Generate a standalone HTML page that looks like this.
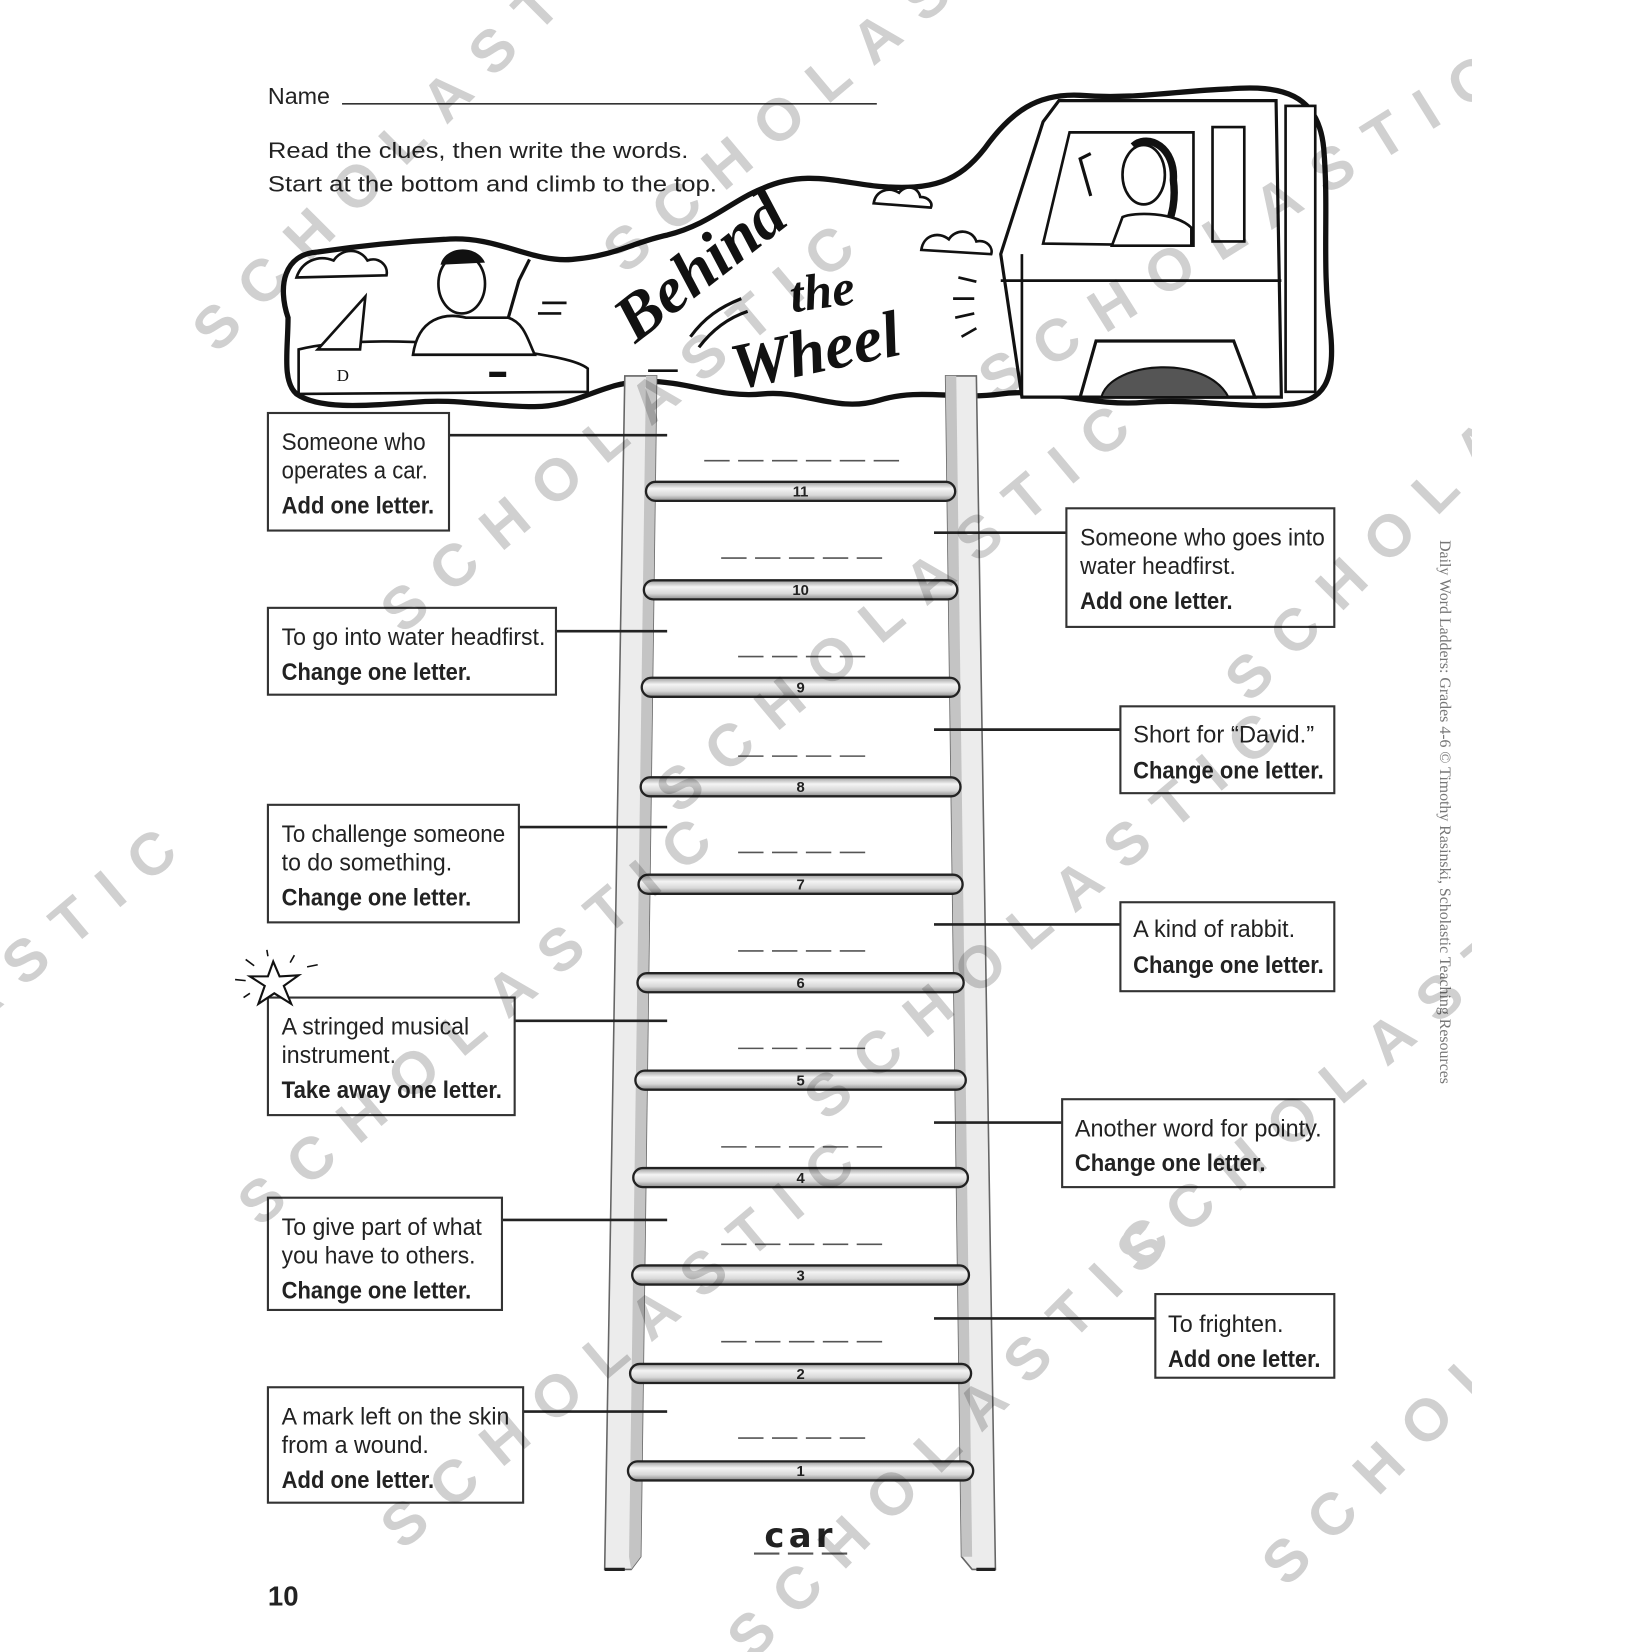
<!DOCTYPE html>
<html><head><meta charset="utf-8"><style>
html,body{margin:0;padding:0;background:#fff;width:1652px;height:1652px;overflow:hidden}
svg{display:block}
.c{font-family:"Liberation Sans Narrow","Liberation Sans",sans-serif;font-size:23px;fill:#222}
.b{font-weight:bold}
.wm{font-family:"Liberation Sans",sans-serif;font-weight:bold;font-size:56px;fill:#d0d0d0;letter-spacing:22px;mix-blend-mode:multiply}
.n{font-family:"Liberation Sans",sans-serif;font-weight:bold;font-size:14px;fill:#222;text-anchor:middle}
</style></head><body>
<svg width="1652" height="1652" viewBox="0 0 1560 1560" xmlns="http://www.w3.org/2000/svg">
<defs>
<linearGradient id="rg" x1="0" y1="0" x2="0" y2="1">
<stop offset="0" stop-color="#9a9a9a"/><stop offset="0.35" stop-color="#f4f4f4"/><stop offset="0.7" stop-color="#d8d8d8"/><stop offset="1" stop-color="#8a8a8a"/>
</linearGradient>
<clipPath id="pg"><rect x="0" y="0" width="1390" height="1560"/></clipPath>
</defs>

<text x="253" y="98" font-family="Liberation Sans,sans-serif" font-size="22" fill="#222">Name</text>
<line x1="323" y1="98" x2="828" y2="98" stroke="#333" stroke-width="1.5"/>
<text x="253" y="149" font-family="Liberation Sans,sans-serif" font-size="21" fill="#222" textLength="397" lengthAdjust="spacingAndGlyphs">Read the clues, then write the words.</text>
<text x="253" y="181" font-family="Liberation Sans,sans-serif" font-size="21" fill="#222" textLength="424" lengthAdjust="spacingAndGlyphs">Start at the bottom and climb to the top.</text>

<path d="M272,300 C262,270 268,240 300,238 C340,232 380,228 420,226 C470,222 500,248 540,245 C580,242 600,228 630,222 C670,212 690,190 720,178 C760,160 790,172 830,176 C880,180 905,172 930,140 C955,105 980,88 1020,90 C1070,94 1110,86 1160,84 C1210,80 1245,88 1250,140 C1255,200 1248,250 1256,310 C1262,360 1250,380 1215,382 C1170,386 1130,376 1080,380 C1030,384 990,366 945,372 C900,378 870,366 830,378 C790,390 760,368 720,372 C680,376 650,360 610,360 C570,360 545,384 505,384 C460,384 430,376 390,380 C340,384 300,386 280,372 C266,360 272,330 272,300 Z" fill="#fff" stroke="#111" stroke-width="5"/>
<path d="M280,262 c5,-15 20,-22 35,-16 c8,-12 25,-12 32,0 c10,-4 20,4 18,14 Z" fill="#fff" stroke="#111" stroke-width="2.5"/>
<path d="M282,330 C330,318 420,322 480,330 C520,336 545,340 555,348 L555,370 L282,372 Z" fill="#fff" stroke="#111" stroke-width="2.5"/>
<path d="M300,330 L345,280 L340,330 Z" fill="#fff" stroke="#111" stroke-width="2.5"/>
<path d="M390,335 C395,300 420,295 440,300 L480,300 C495,305 498,320 505,335 Z" fill="#fff" stroke="#111" stroke-width="2.5"/>
<ellipse cx="436" cy="268" rx="22" ry="28" fill="#fff" stroke="#111" stroke-width="2.5"/>
<path d="M416,250 C420,232 450,230 458,248" fill="#111"/>
<path d="M480,300 L490,265 L500,245" fill="none" stroke="#111" stroke-width="3"/>
<text x="318" y="360" font-family="Liberation Serif,serif" font-size="16" fill="#111">D</text>
<rect x="462" y="351" width="16" height="5" fill="#111"/>
<g stroke="#111" stroke-width="2.5"><line x1="512" y1="286" x2="535" y2="286"/><line x1="508" y1="296" x2="530" y2="296"/><line x1="612" y1="350" x2="640" y2="350"/></g>
<g font-family="Liberation Serif,serif" font-style="italic" font-weight="bold" fill="#111">
<text x="0" y="0" font-size="62" transform="translate(600,325) rotate(-38)">Behind</text>
<text x="0" y="0" font-size="48" transform="translate(748,295) rotate(-8)">the</text>
<text x="0" y="0" font-size="62" transform="translate(695,368) rotate(-12)">Wheel</text>
</g>
<path d="M652,318 C665,300 680,290 700,282 M660,328 C672,312 688,300 706,294" fill="none" stroke="#111" stroke-width="3"/>
<path d="M825,192 c2,-12 14,-16 24,-10 c6,-8 18,-6 20,4 c8,0 12,6 10,10 Z" fill="#fff" stroke="#111" stroke-width="2.5"/>
<path d="M870,236 c2,-14 16,-18 26,-10 c6,-10 22,-10 26,2 c10,-2 16,6 14,12 Z" fill="#fff" stroke="#111" stroke-width="2.5"/>
<path d="M945,240 L985,115 L1000,95 L1205,95 L1210,375 L965,375 Z" fill="#fff" stroke="#111" stroke-width="3"/>
<path d="M985,230 L1010,125 L1127,125 L1127,232 Z" fill="#fff" stroke="#111" stroke-width="2.5"/>
<rect x="1145" y="120" width="30" height="108" fill="#fff" stroke="#111" stroke-width="2.5"/>
<rect x="1214" y="100" width="28" height="270" fill="#fff" stroke="#111" stroke-width="2.5"/>
<line x1="945" y1="265" x2="1210" y2="265" stroke="#111" stroke-width="2.5"/>
<line x1="965" y1="240" x2="965" y2="375" stroke="#111" stroke-width="2.5"/>
<path d="M1020,375 L1035,322 L1165,322 L1185,375 Z" fill="#fff" stroke="#111" stroke-width="3"/>
<path d="M1040,375 C1050,340 1140,335 1160,375 Z" fill="#555" stroke="#111" stroke-width="2"/>
<ellipse cx="1080" cy="165" rx="20" ry="28" fill="#fff" stroke="#111" stroke-width="2.5"/>
<path d="M1070,138 C1085,125 1110,140 1108,170 C1112,200 1100,215 1100,225" fill="none" stroke="#111" stroke-width="7"/>
<path d="M1060,205 C1070,200 1110,200 1125,215 L1125,232 L1050,232 Z" fill="#fff" stroke="#111" stroke-width="2.5"/>
<path d="M1030,185 L1020,150 L1030,145" fill="none" stroke="#111" stroke-width="3"/>
<g stroke="#111" stroke-width="2.5"><line x1="905" y1="262" x2="922" y2="266"/><line x1="900" y1="282" x2="920" y2="282"/><line x1="902" y1="300" x2="920" y2="296"/><line x1="908" y1="318" x2="922" y2="310"/></g>

<polygon points="590,355 620,355 605,1470 596,1482 571,1482" fill="#ececec" stroke="#666" stroke-width="1.5"/>
<polygon points="610,355 620,355 605,1470 596,1482 594,1470" fill="#c4c4c4"/>
<line x1="571" y1="1482" x2="590" y2="1482" stroke="#222" stroke-width="3"/>
<polygon points="893,355 922,355 940,1482 918,1482 908,1470" fill="#ececec" stroke="#666" stroke-width="1.5"/>
<polygon points="893,355 903,355 918,1470 908,1470" fill="#c4c4c4"/>
<line x1="922" y1="1482" x2="940" y2="1482" stroke="#222" stroke-width="3"/>

<g stroke="#222" stroke-width="2.2" fill="url(#rg)">
<rect x="610" y="455" width="292" height="18" rx="9"/>
<rect x="608" y="548" width="296" height="18" rx="9"/>
<rect x="606" y="640" width="300" height="18" rx="9"/>
<rect x="605" y="734" width="302" height="18" rx="9"/>
<rect x="603" y="826" width="306" height="18" rx="9"/>
<rect x="602" y="919" width="308" height="18" rx="9"/>
<rect x="600" y="1011" width="312" height="18" rx="9"/>
<rect x="598" y="1103" width="316" height="18" rx="9"/>
<rect x="597" y="1195" width="318" height="18" rx="9"/>
<rect x="595" y="1288" width="322" height="18" rx="9"/>
<rect x="593" y="1380" width="326" height="18" rx="9"/>
</g>
<g class="n">
<text x="756" y="469">11</text><text x="756" y="562">10</text><text x="756" y="654">9</text><text x="756" y="748">8</text><text x="756" y="840">7</text><text x="756" y="933">6</text><text x="756" y="1025">5</text><text x="756" y="1117">4</text><text x="756" y="1209">3</text><text x="756" y="1302">2</text><text x="756" y="1394">1</text>
</g>

<g stroke="#555" stroke-width="1.5" stroke-dasharray="24,8">
<line x1="665" y1="435" x2="849" y2="435"/>
<line x1="681" y1="527" x2="833" y2="527"/>
<line x1="697" y1="620" x2="817" y2="620"/>
<line x1="697" y1="714" x2="817" y2="714"/>
<line x1="697" y1="805" x2="817" y2="805"/>
<line x1="697" y1="898" x2="817" y2="898"/>
<line x1="697" y1="990" x2="817" y2="990"/>
<line x1="681" y1="1083" x2="833" y2="1083"/>
<line x1="681" y1="1175" x2="833" y2="1175"/>
<line x1="681" y1="1267" x2="833" y2="1267"/>
<line x1="697" y1="1358" x2="817" y2="1358"/>
</g>
<text x="756" y="1461" text-anchor="middle" font-family="DejaVu Sans,sans-serif" font-weight="bold" font-size="32" fill="#222" letter-spacing="4">car</text>
<line x1="712" y1="1467" x2="800" y2="1467" stroke="#555" stroke-width="2" stroke-dasharray="24,8"/>

<g stroke="#222" stroke-width="2.5">
<line x1="424" y1="411" x2="630" y2="411"/>
<line x1="525" y1="596" x2="630" y2="596"/>
<line x1="490" y1="781" x2="630" y2="781"/>
<line x1="486" y1="964" x2="630" y2="964"/>
<line x1="474" y1="1152" x2="630" y2="1152"/>
<line x1="494" y1="1333" x2="630" y2="1333"/>
<line x1="882" y1="503" x2="1007" y2="503"/>
<line x1="882" y1="689" x2="1058" y2="689"/>
<line x1="882" y1="873" x2="1058" y2="873"/>
<line x1="882" y1="1060" x2="1003" y2="1060"/>
<line x1="882" y1="1245" x2="1091" y2="1245"/>
</g>

<g fill="#fff" stroke="#333" stroke-width="2">
<rect x="253" y="390" width="171" height="111"/>
<rect x="253" y="574" width="272" height="82"/>
<rect x="253" y="760" width="237" height="111"/>
<rect x="253" y="942" width="233" height="111"/>
<rect x="253" y="1131" width="221" height="106"/>
<rect x="253" y="1310" width="241" height="109"/>
<rect x="1007" y="480" width="253" height="112"/>
<rect x="1058" y="667" width="202" height="82"/>
<rect x="1058" y="852" width="202" height="84"/>
<rect x="1003" y="1038" width="257" height="83"/>
<rect x="1091" y="1222" width="169" height="79"/>
</g>

<g class="c">
<text x="266" y="425" textLength="136" lengthAdjust="spacingAndGlyphs">Someone who</text>
<text x="266" y="452" textLength="138" lengthAdjust="spacingAndGlyphs">operates a car.</text>
<text x="266" y="485" class="c b" textLength="144" lengthAdjust="spacingAndGlyphs">Add one letter.</text>
<text x="266" y="609" textLength="249" lengthAdjust="spacingAndGlyphs">To go into water headfirst.</text>
<text x="266" y="642" class="c b" textLength="179" lengthAdjust="spacingAndGlyphs">Change one letter.</text>
<text x="266" y="795" textLength="211" lengthAdjust="spacingAndGlyphs">To challenge someone</text>
<text x="266" y="822" textLength="161" lengthAdjust="spacingAndGlyphs">to do something.</text>
<text x="266" y="855" class="c b" textLength="179" lengthAdjust="spacingAndGlyphs">Change one letter.</text>
<text x="266" y="977" textLength="177" lengthAdjust="spacingAndGlyphs">A stringed musical</text>
<text x="266" y="1004" textLength="108" lengthAdjust="spacingAndGlyphs">instrument.</text>
<text x="266" y="1037" class="c b" textLength="208" lengthAdjust="spacingAndGlyphs">Take away one letter.</text>
<text x="266" y="1166" textLength="189" lengthAdjust="spacingAndGlyphs">To give part of what</text>
<text x="266" y="1193" textLength="183" lengthAdjust="spacingAndGlyphs">you have to others.</text>
<text x="266" y="1226" class="c b" textLength="179" lengthAdjust="spacingAndGlyphs">Change one letter.</text>
<text x="266" y="1345" textLength="215" lengthAdjust="spacingAndGlyphs">A mark left on the skin</text>
<text x="266" y="1372" textLength="139" lengthAdjust="spacingAndGlyphs">from a wound.</text>
<text x="266" y="1405" class="c b" textLength="144" lengthAdjust="spacingAndGlyphs">Add one letter.</text>
<text x="1020" y="515" textLength="231" lengthAdjust="spacingAndGlyphs">Someone who goes into</text>
<text x="1020" y="542" textLength="147" lengthAdjust="spacingAndGlyphs">water headfirst.</text>
<text x="1020" y="575" class="c b" textLength="144" lengthAdjust="spacingAndGlyphs">Add one letter.</text>
<text x="1070" y="701" textLength="171" lengthAdjust="spacingAndGlyphs">Short for “David.”</text>
<text x="1070" y="735" class="c b" textLength="180" lengthAdjust="spacingAndGlyphs">Change one letter.</text>
<text x="1070" y="885" textLength="153" lengthAdjust="spacingAndGlyphs">A kind of rabbit.</text>
<text x="1070" y="919" class="c b" textLength="180" lengthAdjust="spacingAndGlyphs">Change one letter.</text>
<text x="1015" y="1073" textLength="233" lengthAdjust="spacingAndGlyphs">Another word for pointy.</text>
<text x="1015" y="1106" class="c b" textLength="180" lengthAdjust="spacingAndGlyphs">Change one letter.</text>
<text x="1103" y="1258" textLength="109" lengthAdjust="spacingAndGlyphs">To frighten.</text>
<text x="1103" y="1291" class="c b" textLength="144" lengthAdjust="spacingAndGlyphs">Add one letter.</text>
</g>

<path d="M258,908 L264,922 L282,921 L268,931 L275,948 L259,938 L244,948 L250,931 L236,922 L253,922 Z" fill="#fff" stroke="#111" stroke-width="2"/>
<g stroke="#111" stroke-width="1.5"><line x1="222" y1="925" x2="232" y2="926"/><line x1="232" y1="906" x2="240" y2="912"/><line x1="252" y1="897" x2="253" y2="903"/><line x1="278" y1="902" x2="274" y2="909"/><line x1="290" y1="913" x2="300" y2="911"/><line x1="230" y1="942" x2="236" y2="938"/></g>

<text x="253" y="1516" font-family="Liberation Sans,sans-serif" font-weight="bold" font-size="26" fill="#222">10</text>

<text transform="translate(1360,510) rotate(90)" font-family="Liberation Serif,serif" font-size="15" fill="#777">Daily Word Ladders: Grades 4-6 © Timothy Rasinski, Scholastic Teaching Resources</text>

<g class="wm" clip-path="url(#pg)">
<text transform="translate(205,335) rotate(-45)">SCHOLASTIC</text>
<text transform="translate(590,260) rotate(-40)">SCHOLASTIC</text>
<text transform="translate(940,380) rotate(-32)">SCHOLASTIC</text>
<text transform="translate(380,600) rotate(-40)">SCHOLASTIC</text>
<text transform="translate(640,770) rotate(-40)">SCHOLASTIC</text>
<text transform="translate(1180,665) rotate(-45)">SCHOLASTIC</text>
<text transform="translate(-260,1170) rotate(-40)">SCHOLASTIC</text>
<text transform="translate(245,1160) rotate(-40)">SCHOLASTIC</text>
<text transform="translate(780,1060) rotate(-40)">SCHOLASTIC</text>
<text transform="translate(1075,1205) rotate(-40)">SCHOLASTIC</text>
<text transform="translate(380,1465) rotate(-40)">SCHOLASTIC</text>
<text transform="translate(710,1570) rotate(-45)">SCHOLASTIC</text>
<text transform="translate(1215,1500) rotate(-45)">SCHOLASTIC</text>
</g>
</svg>
</body></html>
